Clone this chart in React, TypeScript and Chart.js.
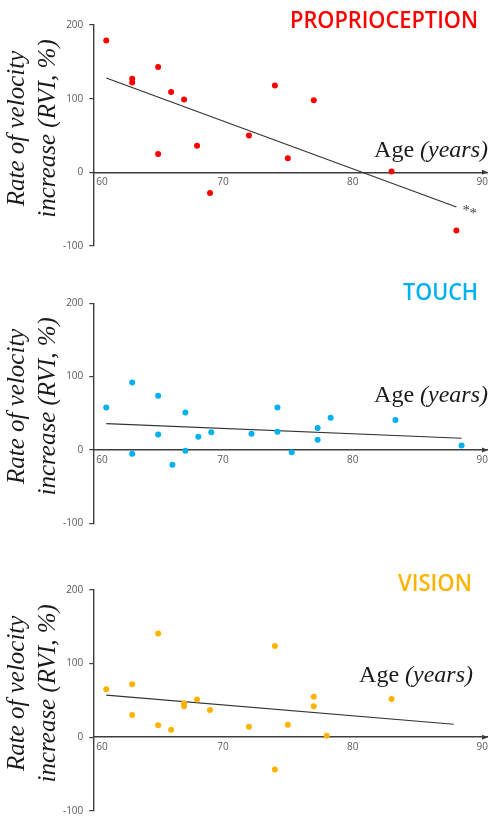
import React, { useEffect, useRef } from 'react';
import { Chart, registerables } from 'chart.js';

Chart.register(...registerables);

// ---------- data ----------
const xTickValues = [60, 70, 80, 90];
const yTickValues = [-100, 0, 100, 200];

const propAges = [61, 63, 63, 65, 65, 66, 67, 68, 69, 72, 74, 75, 77, 83, 88];
const propRVI = [179, 127, 122, 143, 25, 109, 99, 36, -28, 50, 118, 19, 98, 1, -79];
const propFitAges = [61, 88];
const propFitRVI = [128, -47];

const touchAges = [61, 63, 63, 65, 65, 66.1, 67.1, 67.1, 68.1, 69.1, 72.2, 74.2, 74.2, 75.3, 77.3, 77.3, 78.3, 83.3, 88.4];
const touchRVI = [58, 92, -5, 74, 21, -20, 51, -1, 18, 24, 22, 58, 25, -3, 30, 14, 44, 41, 6];
const touchFitAges = [61, 88.4];
const touchFitRVI = [36, 16];

const visionAges = [61, 63, 63, 65, 65, 66, 67, 67, 68, 69, 72, 74, 74, 75, 77, 77, 78, 83];
const visionRVI = [65, 72, 30, 141, 16, 10, 46, 42, 51, 37, 14, 124, -44, 17, 55, 42, 2, 52];
const visionFitAges = [61, 87.8];
const visionFitRVI = [57, 17.5];

const yTitleLines = ['Rate of velocity', 'increase (RVI, %)'];
const xTitleUpright = 'Age ';
const xTitleItalic = '(years)';

// ---------- styling ----------
const AXIS = '#3d3d3d';
const TICK = '#5a5a5a';

type PanelCfg = {
  title: string;
  color: string;
  ages: number[];
  vals: number[];
  fitAges: number[];
  fitVals: number[];
  height: number;
  padTop: number;
  padBottom: number;
  titleRight: number;
  titleBaseline: number;
  titleWidth: number;
  ageRight: number;
  ageBaseline: number;
  stars: boolean;
};

const panels: PanelCfg[] = [
  {
    title: 'PROPRIOCEPTION', color: '#ff0000', ages: propAges, vals: propRVI,
    fitAges: propFitAges, fitVals: propFitRVI, height: 270, padTop: 25, padBottom: 24,
    titleRight: 478, titleBaseline: 28, titleWidth: 188, ageRight: 488, ageBaseline: 157, stars: true,
  },
  {
    title: 'TOUCH', color: '#00b0f0', ages: touchAges, vals: touchRVI,
    fitAges: touchFitAges, fitVals: touchFitRVI, height: 270, padTop: 33.3, padBottom: 16.7,
    titleRight: 478, titleBaseline: 30, titleWidth: 75, ageRight: 488, ageBaseline: 131.7, stars: false,
  },
  {
    title: 'VISION', color: '#ffb300', ages: visionAges, vals: visionRVI,
    fitAges: visionFitAges, fitVals: visionFitRVI, height: 279, padTop: 50, padBottom: 8.3,
    titleRight: 472, titleBaseline: 51, titleWidth: 74, ageRight: 473, ageBaseline: 141.7, stars: false,
  },
];

function makeDecor(cfg: PanelCfg) {
  return {
    id: 'decor',
    afterDraw(chart: any) {
      const ctx: CanvasRenderingContext2D = chart.ctx;
      const area = chart.chartArea;
      const xs = chart.scales.x;
      const ys = chart.scales.y;
      ctx.save();

      // panel title
      ctx.fillStyle = cfg.color;
      ctx.font = '600 23px "Open Sans"';
      ctx.textAlign = 'right';
      ctx.textBaseline = 'alphabetic';
      ctx.fillText(cfg.title, cfg.titleRight, cfg.titleBaseline, cfg.titleWidth);

      // y title (two rotated lines)
      const cy = (area.top + area.bottom) / 2 - 7;
      ctx.fillStyle = '#1a1a1a';
      ctx.font = 'italic 25px "Liberation Serif"';
      ctx.textAlign = 'center';
      ctx.textBaseline = 'middle';
      const lineX = [17, 48];
      yTitleLines.forEach((t, i) => {
        ctx.save();
        ctx.translate(lineX[i], cy);
        ctx.rotate(-Math.PI / 2);
        ctx.fillText(t, 0, 0);
        ctx.restore();
      });

      // x title
      ctx.textBaseline = 'alphabetic';
      ctx.textAlign = 'left';
      ctx.font = 'italic 24px "Liberation Serif"';
      const wItal = ctx.measureText(xTitleItalic).width;
      ctx.font = '24px "Liberation Serif"';
      const wUp = ctx.measureText(xTitleUpright).width;
      const startX = cfg.ageRight - wItal - wUp;
      ctx.fillText(xTitleUpright, startX, cfg.ageBaseline);
      ctx.font = 'italic 24px "Liberation Serif"';
      ctx.fillText(xTitleItalic, startX + wUp, cfg.ageBaseline);

      // arrow head on x axis
      const y0 = ys.getPixelForValue(0);
      const xr = area.right;
      ctx.fillStyle = AXIS;
      ctx.beginPath();
      ctx.moveTo(xr + 1, y0);
      ctx.lineTo(xr - 5, y0 - 2.5);
      ctx.lineTo(xr - 5, y0 + 2.5);
      ctx.closePath();
      ctx.fill();

      if (cfg.stars) {
        const sx = xs.getPixelForValue(cfg.fitAges[1]);
        const sy = ys.getPixelForValue(cfg.fitVals[1]);
        ctx.fillStyle = '#444';
        ctx.font = '15px "Liberation Serif"';
        ctx.textAlign = 'left';
        ctx.fillText('*', sx + 6, sy + 8);
        ctx.fillText('*', sx + 13, sy + 11);
      }
      ctx.restore();
    },
  };
}

function Panel({ cfg }: { cfg: PanelCfg }) {
  const ref = useRef<HTMLCanvasElement>(null);
  useEffect(() => {
    const canvas = ref.current;
    if (!canvas) return;
    const chart = new Chart(canvas, {
      type: 'scatter',
      data: {
        datasets: [
          {
            type: 'scatter',
            data: cfg.ages.map((x, i) => ({ x, y: cfg.vals[i] })),
            backgroundColor: cfg.color,
            borderWidth: 0,
            pointRadius: 3,
            pointHoverRadius: 3,
          },
          {
            type: 'line',
            data: cfg.fitAges.map((x, i) => ({ x, y: cfg.fitVals[i] })),
            borderColor: '#333333',
            borderWidth: 1.2,
            pointRadius: 0,
            fill: false,
            showLine: true,
          } as any,
        ],
      },
      options: {
        responsive: false,
        animation: false,
        events: [],
        layout: { padding: { left: 0, right: 2, top: cfg.padTop, bottom: cfg.padBottom } },
        plugins: { legend: { display: false }, tooltip: { enabled: false } },
        scales: {
          x: {
            type: 'linear',
            position: { y: 0 } as any,
            min: 60,
            max: 90.36,
            afterBuildTicks: (s: any) => {
              s.ticks = xTickValues.map((v) => ({ value: v }));
            },
            afterFit: (s: any) => {
              s.paddingLeft = 0;
              s.paddingRight = 0;
            },
            grid: { display: false, drawTicks: false },
            border: { display: true, color: AXIS, width: 1.4 },
            ticks: {
              padding: 4,
              color: TICK,
              font: { family: '"Open Sans"', size: 10 },
              maxRotation: 0,
              autoSkip: false,
              callback: (v: any) => (v === 60 ? '\u2007\u2007\u200760' : String(v)),
            },
          },
          y: {
            type: 'linear',
            position: 'left',
            min: -100,
            max: 200,
            afterBuildTicks: (s: any) => {
              s.ticks = yTickValues.map((v) => ({ value: v }));
            },
            afterFit: (s: any) => {
              s.width = 93.3;
              s.paddingTop = 0;
              s.paddingBottom = 0;
            },
            grid: { display: true, drawOnChartArea: false, drawTicks: true, tickLength: 4, color: AXIS, lineWidth: 1.2 },
            border: { display: true, color: AXIS, width: 1.4 },
            ticks: {
              padding: 6,
              color: TICK,
              font: { family: '"Open Sans"', size: 10 },
            },
          },
        },
      },
      plugins: [makeDecor(cfg)],
    });
    return () => chart.destroy();
  }, [cfg]);
  return <canvas ref={ref} width={490} height={cfg.height} style={{ display: 'block', width: 490, height: cfg.height }} />;
}

export default function App() {
  useEffect(() => {
    document.body.style.margin = '0';
    document.body.style.background = '#ffffff';
  }, []);
  return (
    <div style={{ width: 490, height: 819, background: '#fff' }}>
      {panels.map((p) => (
        <Panel key={p.title} cfg={p} />
      ))}
    </div>
  );
}
